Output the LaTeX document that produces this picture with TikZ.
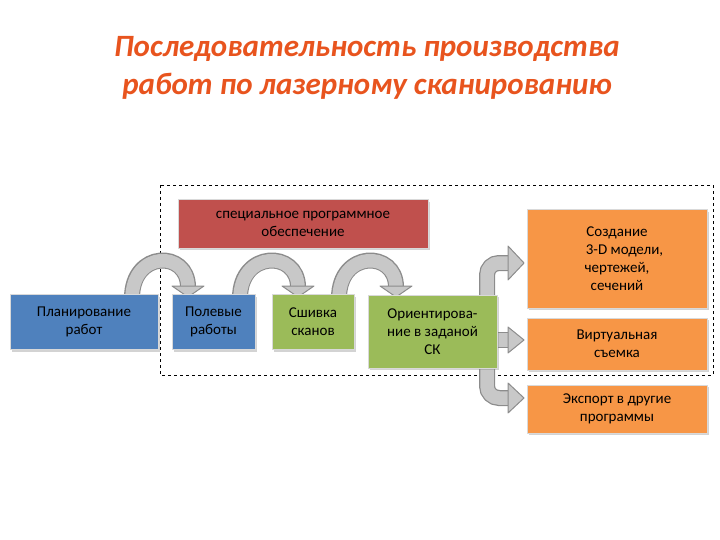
\documentclass[tikz,border=0pt]{standalone}
\usepackage{fontspec}
\setmainfont{Carlito}
\usetikzlibrary{shadows}
\definecolor{cblue}{HTML}{4F81BD}
\definecolor{cgreen}{HTML}{9BBB59}
\definecolor{cred}{HTML}{C0504D}
\definecolor{corange}{HTML}{F79646}
\definecolor{ctitle}{HTML}{E8541E}
\definecolor{agray}{HTML}{C8C8C8}
\definecolor{aedge}{HTML}{8C8C8C}
\tikzset{
 box/.style={draw=white!85!black, line width=1pt, fill=#1, align=center, font=\fontsize{15}{18}\selectfont,
   drop shadow={opacity=0.35, shadow xshift=2pt, shadow yshift=-2pt}, inner sep=2pt},
 shaftout/.style={draw=aedge, line width=16pt},
 shaftin/.style={draw=agray, line width=13.5pt},
 headtri/.style={fill=agray, draw=aedge, line width=1pt, line join=round}
}
\begin{document}
\begin{tikzpicture}[x=1pt,y=-1pt]
\useasboundingbox (0,0) rectangle (720,540);
\node[text=ctitle, font=\fontsize{31}{38}\selectfont\bfseries\itshape, align=center] (title) at (367,68)
 {Последовательность производства\\работ по лазерному сканированию};
\draw[dashed, line width=0.8pt] (160,185) rectangle (713,375);
\node (dash) at (436,280) {};
% curved arrows
\foreach \a/\b in {132/188, 240/298, 339/396}{
 \draw[shaftout] (\a,298) .. controls (\a,250) and (\b,250) .. (\b,287);
 \draw[shaftin] (\a,299) .. controls (\a,250) and (\b,250) .. (\b,287.5);
 \filldraw[headtri] (\b-16,286) -- (\b+16,286) -- (\b,297) -- cycle;
}
% right arrows
\draw[shaftout] (487,296) -- (487,275) arc (180:270:12) -- (508,263);
\draw[shaftin] (487,297) -- (487,275) arc (180:270:12) -- (509,263);
\filldraw[headtri] (508,246) -- (524,263) -- (508,280) -- cycle;
\draw[shaftout] (496,340) -- (508,340);
\draw[shaftin] (495,340) -- (509,340);
\filldraw[headtri] (508,327) -- (524,340) -- (508,353) -- cycle;
\draw[shaftout] (487,366) -- (487,386) arc (180:90:12) -- (508,398);
\draw[shaftin] (487,365) -- (487,386) arc (180:90:12) -- (509,398);
\filldraw[headtri] (508,383) -- (524,398) -- (508,413) -- cycle;
% boxes
\node[box=cred, minimum width=250pt, minimum height=48pt] (soft) at (303,224) {специальное программное\\обеспечение};
\node[box=cblue, minimum width=148pt, minimum height=55pt] (plan) at (84,322) {Планирование\\работ};
\node[box=cblue, minimum width=83pt, minimum height=55pt] (field) at (213.5,322) {Полевые\\работы};
\node[box=cgreen, minimum width=82pt, minimum height=55pt] (stitch) at (313,322) {Сшивка\\сканов};
\node[box=cgreen, minimum width=129pt, minimum height=73pt] (orient) at (432.5,331.5) {Ориентирова-\\ние в заданой\\СК};
\node[box=corange, minimum width=180pt, minimum height=98pt] (model) at (617,259) {Создание\\\quad 3-D модели,\\чертежей,\\сечений};
\node[box=corange, minimum width=180pt, minimum height=52pt] (virt) at (617,344) {Виртуальная\\съемка};
\node[box=corange, minimum width=180pt, minimum height=48pt] (exp) at (617,409) {Экспорт в другие\\программы};
\end{tikzpicture}
\end{document}
